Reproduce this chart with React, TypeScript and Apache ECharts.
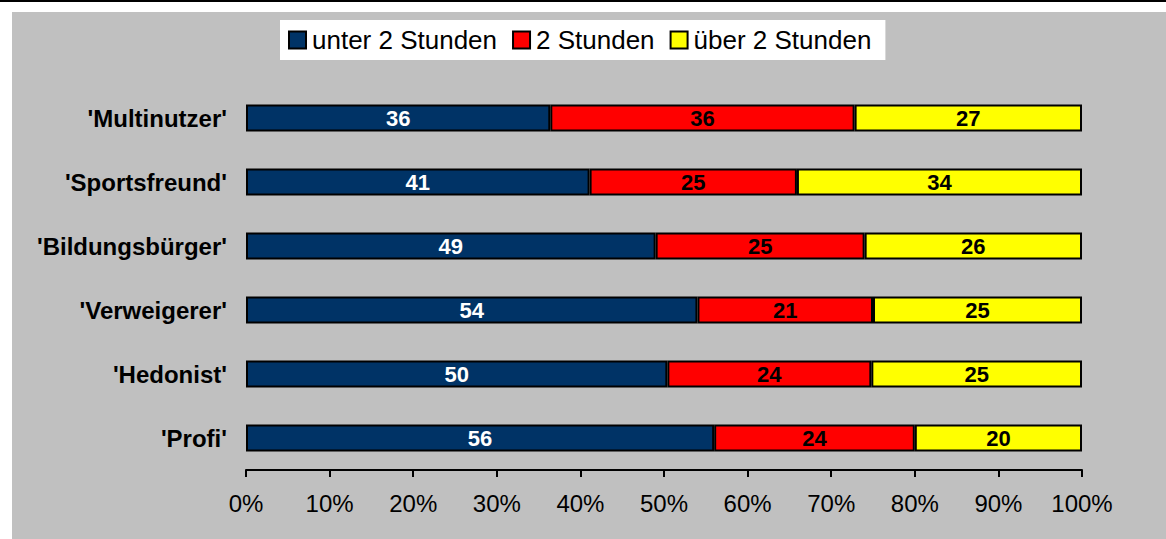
import React, { useEffect, useRef } from "react";
import * as echarts from "echarts";

const categories = ["'Multinutzer'", "'Sportsfreund'", "'Bildungsbürger'", "'Verweigerer'", "'Hedonist'", "'Profi'"];
const seriesNames = ["unter 2 Stunden", "2 Stunden", "über 2 Stunden"];
const under2 = [36.4, 41.1, 49.0, 54.0, 50.4, 56.0];
const exactly2 = [36.4, 24.8, 25.0, 21.0, 24.4, 24.0];
const over2 = [27.2, 34.1, 26.0, 25.0, 25.2, 20.0];
const seriesColors = ["#003366", "#FF0000", "#FFFF00"];
const labelColors = ["#FFFFFF", "#000000", "#000000"];

const FONT = "'Liberation Sans', Arial, sans-serif";

export default function App() {
  const ref = useRef<HTMLDivElement>(null);
  useEffect(() => {
    if (!ref.current) return;
    const chart = echarts.init(ref.current, null, { renderer: "svg" });
    const values = [under2, exactly2, over2];
    chart.setOption({
      animation: false,
      textStyle: { fontFamily: FONT },
      graphic: [
        { type: "rect", z: -10, silent: true, shape: { x: 0, y: 0, width: 1166, height: 539 }, style: { fill: "#FFFFFF" } },
        { type: "rect", z: -9, silent: true, shape: { x: 0, y: 0, width: 1166, height: 2 }, style: { fill: "#000000" } },
        { type: "rect", z: -9, silent: true, shape: { x: 12, y: 12, width: 1154, height: 527 }, style: { fill: "#C0C0C0" } },
      ],
      legend: {
        left: 280,
        top: 20,
        backgroundColor: "#FFFFFF",
        padding: [7, 14, 7, 8],
        itemWidth: 17,
        itemHeight: 17,
        itemGap: 15,
        icon: "rect",
        textStyle: { fontFamily: FONT, fontSize: 26, color: "#000000", lineHeight: 26, padding: [0, 0, 0, 1] },
        data: seriesNames,
      },
      grid: { left: 246, right: 84, top: 86, bottom: 69, containLabel: false },
      xAxis: {
        type: "value",
        min: 0,
        max: 100,
        interval: 10,
        axisLine: { show: true, lineStyle: { color: "#000000", width: 2 } },
        axisTick: { show: true, inside: false, length: 7, lineStyle: { color: "#000000", width: 2 } },
        splitLine: { show: false },
        axisLabel: { formatter: "{value}%", fontFamily: FONT, fontSize: 24, color: "#000000", margin: 21 },
      },
      yAxis: {
        type: "category",
        inverse: true,
        data: categories,
        axisLine: { show: false },
        axisTick: { show: false },
        axisLabel: { fontFamily: FONT, fontSize: 24, fontWeight: "bold", color: "#000000", margin: 19 },
      },
      series: seriesNames.map((name, i) => ({
        name,
        type: "bar",
        stack: "total",
        barWidth: 27,
        data: values[i],
        itemStyle: { color: seriesColors[i], borderColor: "#000000", borderWidth: 2 },
        label: {
          show: true,
          position: "inside",
          formatter: (p: any) => String(Math.round(p.value)),
          color: labelColors[i],
          fontFamily: FONT,
          fontWeight: "bold",
          fontSize: 22,
          textBorderWidth: 0,
        },
      })),
    });
    return () => chart.dispose();
  }, []);
  return <div ref={ref} style={{ position: "absolute", left: 0, top: 0, width: 1166, height: 539 }} />;
}
